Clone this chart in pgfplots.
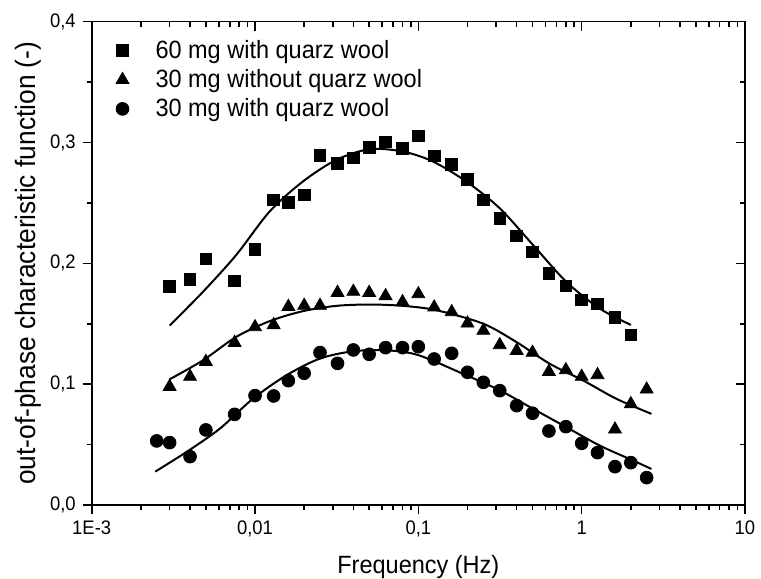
\documentclass[border=0pt]{standalone}
\usepackage{fontspec}
\setmainfont{Liberation Sans}[FakeStretch=0.94]
\usepackage{pgfplots}
\pgfplotsset{compat=1.18}

% measured series: frequency (Hz) vs out-of-phase characteristic function
\pgfplotstableread{
x y
0.003 0.1807
0.004 0.1868
0.005 0.2036
0.0075 0.1854
0.01 0.2116
0.013 0.2524
0.016 0.2502
0.02 0.2566
0.025 0.2894
0.032 0.2828
0.04 0.2874
0.05 0.2960
0.063 0.3004
0.08 0.2949
0.1 0.3054
0.125 0.2888
0.16 0.2819
0.2 0.2695
0.25 0.2524
0.315 0.2370
0.4 0.2226
0.5 0.2094
0.63 0.1917
0.8 0.1812
1.0 0.1697
1.25 0.1663
1.6 0.1550
2.0 0.1407
}\sixtyqw

\pgfplotstableread{
x y
0.003 0.0979
0.004 0.1062
0.005 0.1186
0.0075 0.1343
0.01 0.1473
0.013 0.1490
0.016 0.1641
0.02 0.1650
0.025 0.1650
0.032 0.1757
0.04 0.1766
0.05 0.1757
0.063 0.1730
0.08 0.1680
0.1 0.1746
0.125 0.1636
0.16 0.1597
0.2 0.1503
0.25 0.1443
0.315 0.1324
0.4 0.1277
0.5 0.1261
0.63 0.1103
0.8 0.1117
1.0 0.1062
1.25 0.1076
1.6 0.0626
2.0 0.0836
2.5 0.0957
}\thirtynoqw

\pgfplotstableread{
x y
0.0025 0.0530
0.003 0.0516
0.004 0.0400
0.005 0.0621
0.0075 0.0750
0.01 0.0905
0.013 0.0902
0.016 0.1029
0.02 0.1090
0.025 0.1261
0.032 0.1172
0.04 0.1283
0.05 0.1247
0.063 0.1302
0.08 0.1302
0.1 0.1310
0.125 0.1208
0.16 0.1255
0.2 0.1098
0.25 0.1015
0.315 0.0946
0.4 0.0822
0.5 0.0759
0.63 0.0612
0.8 0.0648
1.0 0.0510
1.25 0.0433
1.6 0.0317
2.0 0.0350
2.5 0.0226
}\thirtyqw

% fitted model curves
\pgfplotstableread{
x y
0.003 0.1485
0.0048 0.1764
0.00767 0.2069
0.01227 0.2428
0.01963 0.2677
0.0315 0.2857
0.0504 0.2945
0.0805 0.2925
0.1227 0.2843
0.1968 0.2677
0.3148 0.2456
0.5035 0.2152
0.8054 0.1847
1.288 0.1626
2.0 0.1490
}\fitsixty

\pgfplotstableread{
x y
0.003 0.1040
0.0048 0.1197
0.00767 0.1391
0.01227 0.1521
0.01963 0.1604
0.0315 0.1648
0.0504 0.1659
0.0805 0.1648
0.1288 0.1612
0.2489 0.1501
0.3981 0.1349
0.6368 0.1169
1.019 0.1031
1.629 0.0879
2.673 0.0754
}\fitthirtyno

\pgfplotstableread{
x y
0.00245 0.0276
0.00379 0.0437
0.00607 0.0630
0.0097 0.0879
0.01556 0.1073
0.02489 0.1211
0.0398 0.1272
0.0637 0.1280
0.1 0.1240
0.1968 0.1073
0.3148 0.0949
0.5035 0.0796
0.8054 0.0644
1.288 0.0492
2.061 0.0368
2.673 0.0298
}\fitthirty

\begin{document}
\begin{tikzpicture}
% top and right ticks, pointing inwards
\begin{axis}[
  scale only axis, width=326.6pt, height=241.6pt,
  xmode=log, xmin=1e-3, xmax=10, ymin=0, ymax=0.4,
  axis line style={line width=0.8pt},
  xtick={0.001,0.01,0.1,1,10},
  minor xtick={0.002,0.003,0.004,0.005,0.006,0.007,0.008,0.009,
               0.02,0.03,0.04,0.05,0.06,0.07,0.08,0.09,
               0.2,0.3,0.4,0.5,0.6,0.7,0.8,0.9,
               2,3,4,5,6,7,8,9},
  ytick={0,0.1,0.2,0.3,0.4},
  minor ytick={0.05,0.15,0.25,0.35},
  major tick length=4.5pt, minor tick length=2.5pt,
  tick style={line width=0.8pt, black},
  xtick pos=right, ytick pos=right, tick align=inside,
  xticklabels={}, yticklabels={}]
\end{axis}
\begin{axis}[
  name=ax,
  scale only axis, width=326.6pt, height=241.6pt,
  xmode=log, xmin=1e-3, xmax=10, ymin=0, ymax=0.4,
  axis line style={line width=0.8pt},
  xtick={0.001,0.01,0.1,1,10},
  minor xtick={0.002,0.003,0.004,0.005,0.006,0.007,0.008,0.009,
               0.02,0.03,0.04,0.05,0.06,0.07,0.08,0.09,
               0.2,0.3,0.4,0.5,0.6,0.7,0.8,0.9,
               2,3,4,5,6,7,8,9},
  ytick={0,0.1,0.2,0.3,0.4},
  minor ytick={0.05,0.15,0.25,0.35},
  major tick length=4.5pt, minor tick length=2.5pt,
  tick style={line width=0.8pt, black},
  xtick pos=left, ytick pos=left, tick align=outside,
  tick label style={font=\fontsize{9.8}{11}\selectfont},
  xticklabels={1E-3,{0,01},{0,1},1,10},
  yticklabels={{0,0},{0,1},{0,2},{0,3},{0,4}},
  xlabel={Frequency (Hz)},
  ylabel={out-of-phase characteristic function (-)},
  xlabel style={font=\fontsize{12.5}{14}\selectfont,
    at={(axis description cs:0.5,-0.1428)}, anchor=base},
  ylabel style={font=\fontsize{14}{16}\selectfont,
    at={(axis description cs:-0.097,0.5)}, anchor=center},
  legend image code/.code={%
    \path[draw=none, fill=none] (0pt,0pt) -- (14.5pt,0pt);
    \draw[#1] plot coordinates {(0pt,0pt)};},
  legend style={at={(rel axis cs:0,1)}, anchor=north west, draw=none, fill=none,
    font=\fontsize{12.5}{14}\selectfont, xshift=9pt, yshift=-5pt,
    row sep=0pt},
  legend cell align=left,
]
\addplot[only marks, mark=square*, mark size=2.9pt, black] table {\sixtyqw};
\addlegendentry{60 mg with quarz wool}
\addplot[only marks, mark=triangle*, mark size=3.7pt, black] table {\thirtynoqw};
\addlegendentry{30 mg without quarz wool}
\addplot[only marks, mark=*, mark size=3.2pt, black] table {\thirtyqw};
\addlegendentry{30 mg with quarz wool}
\addplot[forget plot, smooth, line width=1pt, black] table {\fitsixty};
\addplot[forget plot, smooth, line width=1pt, black] table {\fitthirtyno};
\addplot[forget plot, smooth, line width=1pt, black] table {\fitthirty};
\end{axis}
\pgfresetboundingbox
\path ([xshift=-45.85pt,yshift=-37pt]ax.south west) rectangle ([xshift=8pt,yshift=10.85pt]ax.north east);
\end{tikzpicture}
\end{document}
